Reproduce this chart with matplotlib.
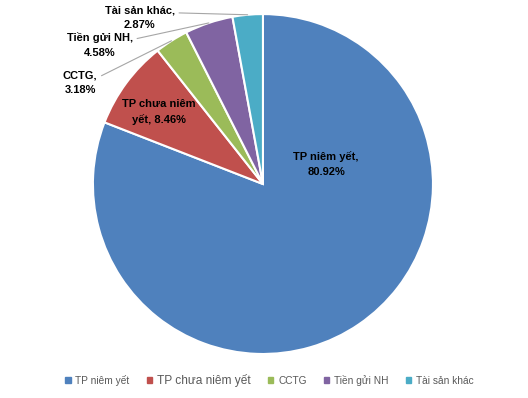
import matplotlib.pyplot as plt
import matplotlib.patches as mpatches
import numpy as np

labels = ['TP niêm yết', 'TP chưa niêm yết', 'CCTG', 'Tiền gửi NH', 'Tài sản khác']
values = [80.92, 8.46, 3.18, 4.58, 2.87]
colors = ['#4F81BD', '#C0504D', '#9BBB59', '#8064A2', '#4BACC6']

plt.rcParams['font.family'] = ['Liberation Sans', 'DejaVu Sans']

fig = plt.figure(figsize=(5.28, 3.98), dpi=100)
ax = fig.add_axes([0.176, 0.1106, 0.644, 0.854])
wedges, _ = ax.pie(values, colors=colors, startangle=90, counterclock=False,
                   wedgeprops=dict(edgecolor='white', linewidth=1.5))
ax.set_xlim(-1, 1)
ax.set_ylim(-1, 1)
ax.set_aspect('auto')

txt = dict(fontsize=8, fontweight='bold', ha='center', va='center',
           color='black', linespacing=1.55)

# labels inside
ax.text(0.371, 0.118, 'TP niêm yết,\n%.2f%%' % values[0], **txt)
ax.text(-0.612, 0.424, 'TP chưa niêm\nyết, %.2f%%' % values[1], **txt)

# outside labels with leader lines
outside = {2: (-1.075, 0.594), 3: (-0.959, 0.818), 4: (-0.724, 0.976)}
for i, pos in outside.items():
    w = wedges[i]
    ang = np.deg2rad((w.theta1 + w.theta2) / 2)
    ax.annotate('%s,\n%.2f%%' % (labels[i], values[i]),
                xy=(np.cos(ang), np.sin(ang)), xytext=pos,
                arrowprops=dict(arrowstyle='-', color='#A6A6A6', lw=0.8,
                                relpos=(1, 0.72), shrinkA=1, shrinkB=0),
                annotation_clip=False, **txt)

handles = [mpatches.Patch(color=c) for c in colors]
leg = fig.legend(handles, labels, loc='center', bbox_to_anchor=(0.51, 0.045),
                 ncol=5, frameon=False, fontsize=7.3, handlelength=0.55,
                 handleheight=0.55, handletextpad=0.45, columnspacing=1.7)
for t in leg.get_texts():
    t.set_color('#595959')
leg.get_texts()[1].set_fontsize(8.6)

fig.savefig('out.png', dpi=100)
